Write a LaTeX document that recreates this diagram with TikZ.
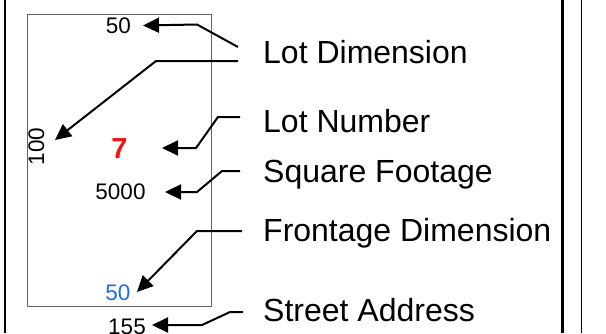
\documentclass[tikz,border=0pt]{standalone}
\usepackage{fontspec}
\setmainfont{Liberation Sans}
\usetikzlibrary{arrows.meta}
\definecolor{lotred}{RGB}{240,20,20}
\definecolor{lotblue}{RGB}{30,110,235}
\definecolor{lotgray}{RGB}{100,100,100}
\tikzset{
  lbl/.style={anchor=base west, inner sep=0pt, font=\fontsize{32}{38}\selectfont},
  num/.style={anchor=base, inner sep=0pt, font=\fontsize{22.5}{27}\selectfont},
  callout/.style={line width=2pt, -{Triangle[length=16pt,width=15pt]}},
}
\begin{document}
\begin{tikzpicture}[x=1pt,y=-1pt]
\useasboundingbox (0,0) rectangle (606,333);
% frame lines
\draw[line width=2pt] (4.5,0) -- (4.5,333);
\draw[line width=2.5pt] (562.3,0) -- (562.3,333);
\draw[line width=1pt] (581.3,0) -- (581.3,333);
% lot
\draw[lotgray, line width=1pt] (27,14) rectangle (211,306);
% numbers
\node[num] (top50) at (118.5,33) {50};
\node[num, anchor=center, rotate=90] (n100) at (36.5,146.5) {100};
\node[num, anchor=base, font=\fontsize{29}{34}\selectfont\bfseries, text=lotred] (n7) at (119.5,158) {7};
\node[num] (n5000) at (120.5,199) {5000};
\node[num, text=lotblue] (bot50) at (118,300.5) {50};
\node[num] (n155) at (127,334) {155};
% labels
\node[lbl] (lotdim) at (263,63) {Lot Dimension};
\node[lbl] (lotnum) at (263,132) {Lot Number};
\node[lbl] (sqft) at (263,182) {Square Footage};
\node[lbl] (front) at (263,241.7) {Frontage Dimension};
\node[lbl] (street) at (263,321.7) {Street Address};
% callout coordinates
\coordinate (a1s) at (238,47);
\coordinate (a1t) at (143,25.5);
\coordinate (a2s) at (238,61);
\coordinate (a2t) at (55,140);
\coordinate (a3s) at (240,117);
\coordinate (a3t) at (162,148);
\coordinate (a4s) at (240,171);
\coordinate (a4t) at (165,192);
\coordinate (a5s) at (242,231);
\coordinate (a5t) at (137,292);
\coordinate (a6s) at (243,312);
\coordinate (a6t) at (152,325);
% callouts
\draw[callout] (a1s) -- (197,24.5) -- (a1t);
\draw[callout] (a2s) -- (156,61) -- (a2t);
\draw[callout] (a3s) -- (218,117) -- (196,148) -- (a3t);
\draw[callout] (a4s) -- (222,171) -- (197,192) -- (a4t);
\draw[callout] (a5s) -- (197,231) -- (a5t);
\draw[callout] (a6s) -- (230,312) -- (202,325) -- (a6t);
\end{tikzpicture}
\end{document}
